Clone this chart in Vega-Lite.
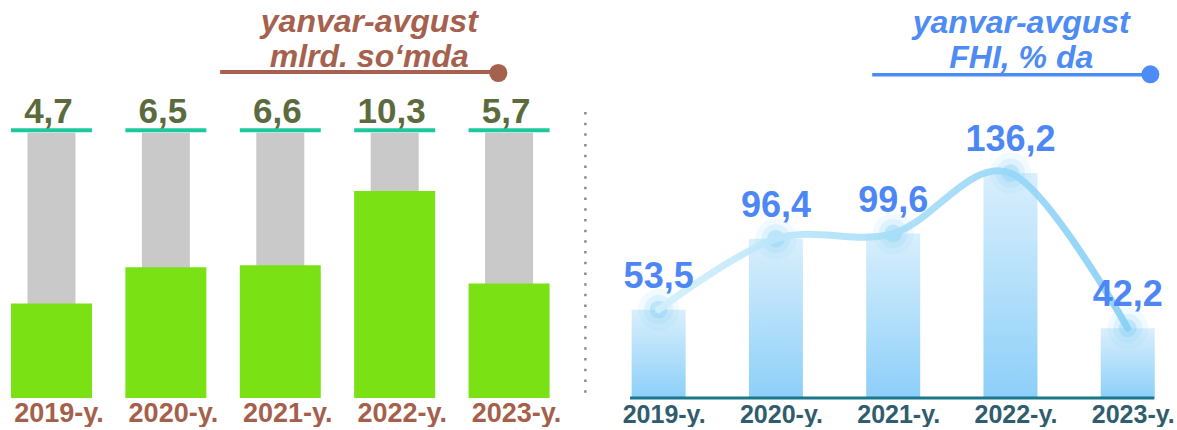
{
  "$schema": "https://vega.github.io/schema/vega-lite/v6.json",
  "padding": 0,
  "bounds": "flush",
  "spacing": 28,
  "background": "white",
  "config": {
    "view": {"stroke": null},
    "font": "Liberation Sans",
    "locale": {"number": {"decimal": ",", "thousands": " ", "grouping": [3], "currency": ["", ""]}}
  },
  "hconcat": [
    {
      "width": 572,
      "height": 398,
      "data": {"values": [
        {"year": 2019, "value": 4.7},
        {"year": 2020, "value": 6.5},
        {"year": 2021, "value": 6.6},
        {"year": 2022, "value": 10.3},
        {"year": 2023, "value": 5.7}
      ]},
      "layer": [
        {
          "mark": {"type": "bar", "width": 48, "color": "#c9c9c9"},
          "encoding": {
            "x": {"field": "year", "type": "quantitative", "scale": {"domain": [2018.55, 2023.55], "nice": false, "zero": false, "padding": 0},
              "axis": {"values": [2019, 2020, 2021, 2022, 2023], "labelExpr": "datum.value + '-y.'", "title": null, "grid": false, "ticks": false, "domain": false,
                "labelFont": "Liberation Sans", "labelFontSize": 27, "labelFontWeight": "bold", "labelColor": "#a5604c", "labelPadding": 2, "labelOffset": 7, "labelFlush": false, "labelOverlap": false}},
            "y": {"datum": 13.2, "type": "quantitative", "scale": {"domain": [0, 19.8], "nice": false}, "axis": null},
            "y2": {"datum": 0}
          }
        },
        {
          "mark": {"type": "bar", "width": 81, "color": "#79e114"},
          "encoding": {
            "x": {"field": "year", "type": "quantitative"},
            "y": {"field": "value", "type": "quantitative", "axis": null}
          }
        },
        {
          "mark": {"type": "tick", "orient": "horizontal", "size": 81, "thickness": 4, "color": "#1dc99b", "opacity": 1},
          "encoding": {
            "x": {"field": "year", "type": "quantitative"},
            "y": {"datum": 13.32, "type": "quantitative", "axis": null}
          }
        },
        {
          "mark": {"type": "text", "fontSize": 35, "fontWeight": "bold", "color": "#5b6b3d", "baseline": "alphabetic", "dx": -3},
          "encoding": {
            "x": {"field": "year", "type": "quantitative"},
            "y": {"datum": 13.68, "type": "quantitative", "axis": null},
            "text": {"field": "value", "type": "quantitative", "format": ".1f"}
          }
        },
        {
          "data": {"values": [{}]},
          "mark": {"type": "text", "text": "yanvar-avgust", "fontSize": 32, "fontWeight": "bold", "fontStyle": "italic", "color": "#a5614d", "baseline": "alphabetic"},
          "encoding": {
            "x": {"datum": 2021.778, "type": "quantitative"},
            "y": {"datum": 18.21, "type": "quantitative", "axis": null}
          }
        },
        {
          "data": {"values": [{}]},
          "mark": {"type": "text", "text": "mlrd. so‘mda", "fontSize": 32, "fontWeight": "bold", "fontStyle": "italic", "color": "#a5614d", "baseline": "alphabetic"},
          "encoding": {
            "x": {"datum": 2021.778, "type": "quantitative"},
            "y": {"datum": 16.47, "type": "quantitative", "axis": null}
          }
        },
        {
          "data": {"values": [{}]},
          "mark": {"type": "rule", "strokeWidth": 4, "color": "#a5614d"},
          "encoding": {
            "x": {"datum": 2020.474, "type": "quantitative"},
            "x2": {"datum": 2022.836},
            "y": {"datum": 16.22, "type": "quantitative", "axis": null}
          }
        },
        {
          "data": {"values": [{}]},
          "mark": {"type": "circle", "size": 330, "opacity": 1, "color": "#a5614d"},
          "encoding": {
            "x": {"datum": 2022.906, "type": "quantitative"},
            "y": {"datum": 16.17, "type": "quantitative", "axis": null}
          }
        },
        {
          "data": {"values": [{}]},
          "mark": {"type": "rule", "strokeWidth": 2.5, "strokeDash": [2.5, 8.2], "color": "#8c8c8c"},
          "encoding": {
            "x": {"datum": 2023.667, "type": "quantitative"},
            "y": {"datum": 14.23, "type": "quantitative", "axis": null},
            "y2": {"datum": 0.1}
          }
        }
      ]
    },
    {
      "width": 577,
      "height": 398,
      "data": {"values": [
        {"year": 2019, "value": 53.5},
        {"year": 2020, "value": 96.4},
        {"year": 2021, "value": 99.6},
        {"year": 2022, "value": 136.2},
        {"year": 2023, "value": 42.2}
      ]},
      "layer": [
        {
          "mark": {"type": "bar", "width": 54, "color": {"gradient": "linear", "x1": 0, "y1": 0, "x2": 0, "y2": 1,
            "stops": [{"offset": 0, "color": "#d9effc"}, {"offset": 0.55, "color": "#afdefa"}, {"offset": 1, "color": "#8dcff9"}]}},
          "encoding": {
            "x": {"field": "year", "type": "quantitative", "scale": {"domain": [2018.5, 2023.42], "nice": false, "zero": false, "padding": 0},
              "axis": {"values": [2019, 2020, 2021, 2022, 2023], "labelExpr": "datum.value + '-y.'", "title": null, "grid": false, "ticks": false, "domain": false,
                "labelFont": "Liberation Sans", "labelFontSize": 25, "labelFontWeight": "bold", "labelColor": "#2f5d6e", "labelPadding": 4, "labelOffset": 5, "labelFlush": false, "labelOverlap": false}},
            "y": {"field": "value", "type": "quantitative", "scale": {"domain": [0, 241], "nice": false}, "axis": null}
          }
        },
        {
          "data": {"values": [{}]},
          "mark": {"type": "rule", "strokeWidth": 3, "color": "#19788c"},
          "encoding": {
            "x": {"datum": 2018.756, "type": "quantitative"},
            "x2": {"datum": 2023.227},
            "y": {"datum": 0, "type": "quantitative", "axis": null}
          }
        },
        {
          "mark": {"type": "circle", "size": 1700, "opacity": 0.12, "color": "#8fd4f7"},
          "encoding": {
            "x": {"field": "year", "type": "quantitative"},
            "y": {"field": "value", "type": "quantitative", "axis": null}
          }
        },
        {
          "mark": {"type": "circle", "size": 850, "opacity": 0.2, "color": "#8fd4f7"},
          "encoding": {
            "x": {"field": "year", "type": "quantitative"},
            "y": {"field": "value", "type": "quantitative", "axis": null}
          }
        },
        {
          "mark": {"type": "circle", "size": 320, "opacity": 0.35, "color": "#7fcdf6"},
          "encoding": {
            "x": {"field": "year", "type": "quantitative"},
            "y": {"field": "value", "type": "quantitative", "axis": null}
          }
        },
        {
          "mark": {"type": "line", "interpolate": "cardinal", "strokeWidth": 7, "strokeCap": "round", "opacity": 0.9,
            "stroke": {"gradient": "linear", "x1": 0, "y1": 0, "x2": 1, "y2": 0,
              "stops": [{"offset": 0, "color": "#d3eefc"}, {"offset": 0.45, "color": "#a9dff9"}, {"offset": 1, "color": "#86cff6"}]}},
          "encoding": {
            "x": {"field": "year", "type": "quantitative"},
            "y": {"field": "value", "type": "quantitative", "axis": null}
          }
        },
        {
          "mark": {"type": "text", "fontSize": 36, "fontWeight": "bold", "color": "#4d87f5", "baseline": "alphabetic", "dy": -22},
          "encoding": {
            "x": {"field": "year", "type": "quantitative"},
            "y": {"field": "value", "type": "quantitative", "axis": null},
            "text": {"field": "value", "type": "quantitative", "format": ".1f"}
          }
        },
        {
          "data": {"values": [{}]},
          "mark": {"type": "text", "text": "yanvar-avgust", "fontSize": 32, "fontWeight": "bold", "fontStyle": "italic", "color": "#4d8bf5", "baseline": "alphabetic"},
          "encoding": {
            "x": {"datum": 2022.092, "type": "quantitative"},
            "y": {"datum": 221, "type": "quantitative", "axis": null}
          }
        },
        {
          "data": {"values": [{}]},
          "mark": {"type": "text", "text": "FHI, % da", "fontSize": 32, "fontWeight": "bold", "fontStyle": "italic", "color": "#4d8bf5", "baseline": "alphabetic"},
          "encoding": {
            "x": {"datum": 2022.092, "type": "quantitative"},
            "y": {"datum": 200, "type": "quantitative", "axis": null}
          }
        },
        {
          "data": {"values": [{}]},
          "mark": {"type": "rule", "strokeWidth": 3.5, "color": "#4d8bf5"},
          "encoding": {
            "x": {"datum": 2020.821, "type": "quantitative"},
            "x2": {"datum": 2023.193},
            "y": {"datum": 195.8, "type": "quantitative", "axis": null}
          }
        },
        {
          "data": {"values": [{}]},
          "mark": {"type": "circle", "size": 320, "opacity": 1, "color": "#4d8bf5"},
          "encoding": {
            "x": {"datum": 2023.193, "type": "quantitative"},
            "y": {"datum": 196, "type": "quantitative", "axis": null}
          }
        }
      ]
    }
  ]
}
